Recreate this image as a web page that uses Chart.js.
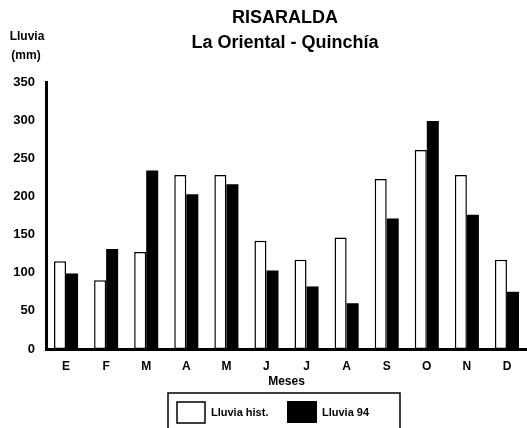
<!DOCTYPE html>
<html>
<head>
<meta charset="utf-8">
<script src="https://cdn.jsdelivr.net/npm/chart.js@4/dist/chart.umd.min.js"></script>
<style>
  html, body { margin: 0; padding: 0; background: #fff; }
  #wrap { width: 527px; height: 428px; }
</style>
</head>
<body>
<div id="wrap"><canvas id="bar-chart" width="527" height="428"></canvas></div>
<script>
  // months (Spanish initials)
  const meses = ['E', 'F', 'M', 'A', 'M', 'J', 'J', 'A', 'S', 'O', 'N', 'D'];
  // rainfall in mm
  const lluviaHist = [115, 90, 127, 228, 228, 142, 117, 146, 223, 261, 228, 117];
  const lluvia94 = [99, 131, 234, 203, 216, 103, 82, 60, 171, 299, 176, 75];

  const titulo = ['RISARALDA', 'La Oriental - Quinchía'];
  const unidad = ['Lluvia', '(mm)'];
  const FONT = '"Liberation Sans", Arial, sans-serif';

  // titles, unit label and the boxed legend
  const extras = {
    id: 'extras',
    afterDraw(chart) {
      const ctx = chart.ctx;
      ctx.save();
      ctx.fillStyle = '#000';
      ctx.textBaseline = 'middle';
      ctx.textAlign = 'center';
      ctx.font = 'bold 18px ' + FONT;
      ctx.fillText(titulo[0], 285, 18);
      ctx.fillText(titulo[1], 285, 43);

      ctx.font = 'bold 12px ' + FONT;
      ctx.fillText(unidad[0], 27, 37);
      ctx.fillText(unidad[1], 26, 56);

      // legend frame
      ctx.lineWidth = 1.5;
      ctx.strokeStyle = '#000';
      ctx.strokeRect(168, 393, 232, 45);

      const ds = chart.data.datasets;
      ctx.textAlign = 'left';
      ctx.font = 'bold 11px ' + FONT;
      // hist swatch
      ctx.fillStyle = '#fff';
      ctx.fillRect(177, 402, 28, 21);
      ctx.strokeRect(177, 402, 28, 21);
      ctx.fillStyle = '#000';
      ctx.fillText(ds[0].label, 211, 413);
      // 94 swatch
      ctx.fillRect(287, 401, 30, 22);
      ctx.fillText(ds[1].label, 322, 413);
      ctx.restore();
    }
  };

  const chartElement = document.getElementById('bar-chart');

  const myChart = new Chart(chartElement, {
    type: 'bar',
    data: {
      labels: meses,
      datasets: [
        {
          label: 'Lluvia hist.',
          data: lluviaHist,
          backgroundColor: '#fff',
          borderColor: '#000',
          borderWidth: 1.5,
          borderSkipped: false
        },
        {
          label: 'Lluvia 94',
          data: lluvia94,
          backgroundColor: '#000',
          borderColor: '#000',
          borderWidth: 0
        }
      ]
    },
    options: {
      responsive: false,
      animation: false,
      events: [],
      layout: { padding: { top: 82, right: 0, bottom: 0, left: 0 } },
      datasets: {
        bar: { categoryPercentage: 0.6, barPercentage: 1.0 }
      },
      plugins: {
        legend: { display: false },
        title: { display: false },
        tooltip: { enabled: false }
      },
      scales: {
        x: {
          grid: { display: false, drawTicks: false },
          border: { display: true, color: '#000', width: 3 },
          ticks: {
            color: '#000',
            padding: 10,
            font: { family: FONT, size: 12, weight: 'bold' }
          },
          title: {
            display: true,
            text: 'Meses',
            color: '#000',
            padding: { top: 0, bottom: 39 },
            font: { family: FONT, size: 12, weight: 'bold' }
          },
          afterFit(scale) { scale.height = 79; }
        },
        y: {
          min: 0,
          max: 350,
          grid: { display: false, drawTicks: false },
          border: { display: true, color: '#000', width: 3 },
          ticks: {
            stepSize: 50,
            color: '#000',
            padding: 11,
            font: { family: FONT, size: 13, weight: 'bold' }
          },
          afterFit(scale) { scale.width = 46; }
        }
      }
    },
    plugins: [extras]
  });
</script>
</body>
</html>
